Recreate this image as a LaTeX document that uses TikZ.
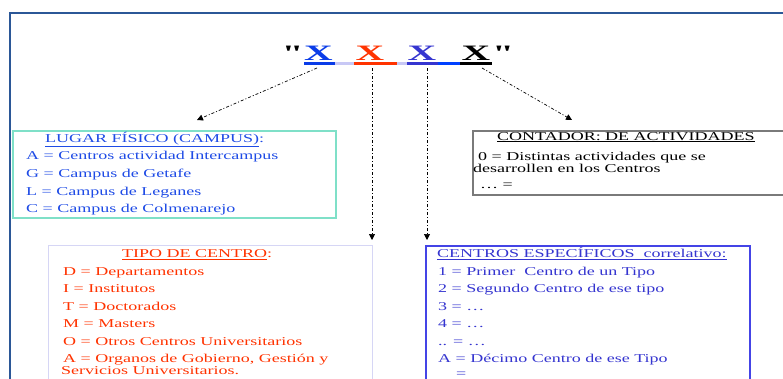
\documentclass[tikz,border=0pt]{standalone}
\usepackage{fontspec}
\setmainfont[FakeStretch=1.5]{Liberation Serif}
\newfontfamily\titlefont[FakeStretch=1.8,Ligatures=TeXOff]{Liberation Serif}
\usetikzlibrary{arrows.meta}
\definecolor{framecol}{HTML}{2B5797}
\definecolor{lugarcol}{HTML}{1E4BE6}
\definecolor{lugarbd}{HTML}{7FE0C8}
\definecolor{tipocol}{HTML}{FF3300}
\definecolor{tipobd}{HTML}{D6D6F5}
\definecolor{centcol}{HTML}{3535D0}
\definecolor{centbd}{HTML}{4444E6}
\definecolor{contbd}{HTML}{7A7A7A}
\definecolor{lavcol}{HTML}{C8C8F5}
\definecolor{xblue}{HTML}{0A3CE8}
\definecolor{xbluetwo}{HTML}{0040FF}
\begin{document}
\begin{tikzpicture}[x=1pt,y=-1pt,
  txt/.style={inner sep=0pt,anchor=base west,font=\fontsize{12}{14}\selectfont},
  bigx/.style={inner sep=0pt,anchor=base,font=\titlefont\fontsize{22}{22}\selectfont\bfseries},
  boxline/.style={line width=1.5pt},
  ddarrow/.style={line width=0.7pt,dash pattern=on 3pt off 2pt on 1pt off 2pt,-{Triangle[width=6pt,length=6pt]}},
  ubar/.style={inner sep=0pt,minimum height=3pt,anchor=north west}]
\clip (0,0) rectangle (783,378);
\fill[white] (0,0) rectangle (783,378);
% outer frame
\draw[framecol,line width=2pt] (785,13) -- (10,13) -- (10,385);

% title
\node[bigx] (ql) at (292.5,60) {"};
\node[bigx,text=xblue] (x1) at (318.5,60) {X};
\node[bigx,text=tipocol] (x2) at (370,60) {X};
\node[bigx,text=centcol] (x3) at (422,60) {X};
\node[bigx,text=black] (x4) at (476,60) {X};
\node[bigx] (qr) at (503,60) {"};
% underline bars
\fill[xblue] (304,61.5) rectangle (335,64.5);
\fill[lavcol] (335,61.5) rectangle (354,64.5);
\fill[tipocol] (354,61.5) rectangle (397,64.5);
\fill[lavcol] (397,61.5) rectangle (407,64.5);
\fill[centcol] (407,61.5) rectangle (438,64.5);
\fill[xbluetwo] (438,61.5) rectangle (460,64.5);
\fill[black] (460,61.5) rectangle (492,64.5);

% boxes
\node[draw=lugarbd,boxline,inner sep=0pt,anchor=north west,minimum width=323pt,minimum height=87pt] (lugar) at (12,130) {};
\node[draw=contbd,boxline,inner sep=0pt,anchor=north west,minimum width=330pt,minimum height=64pt] (cont) at (472,130) {};
\node[draw=tipobd,line width=1pt,inner sep=0pt,anchor=north west,minimum width=324pt,minimum height=160pt] (tipo) at (48,245) {};
\node[draw=centbd,boxline,inner sep=0pt,anchor=north west,minimum width=324pt,minimum height=160pt] (cent) at (425,245) {};

% arrows
\coordinate (s1) at (317,68);
\coordinate (e1) at (197,120);
\coordinate (s2) at (372,68);
\coordinate (e2) at (372,240);
\coordinate (s3) at (427,68);
\coordinate (e3) at (427,240);
\coordinate (s4) at (482,68);
\coordinate (e4) at (572,120);
\draw[ddarrow] (s1) -- (e1);
\draw[ddarrow] (s2) -- (e2);
\draw[ddarrow] (s3) -- (e3);
\draw[ddarrow] (s4) -- (e4);

% LUGAR text
\begin{scope}[text=lugarcol]
\node[txt] (lt) at (45,142.5) {\underline{LUGAR FÍSICO (CAMPUS)}:};
\node[txt] (l1) at (26,159) {A = Centros actividad Intercampus};
\node[txt] (l2) at (26,177) {G = Campus de Getafe};
\node[txt] (l3) at (26,195) {L = Campus de Leganes};
\node[txt] (l4) at (26,212) {C = Campus de Colmenarejo};
\end{scope}

% CONTADOR text
\node[txt] (ct) at (497,140) {\underline{CONTADOR: DE ACTIVIDADES}};
\node[txt] (c1) at (478,160.5) {0 = Distintas actividades que se};
\node[txt] (c2) at (473,172.5) {desarrollen en los Centros};
\node[txt] (c3) at (480,188) {… =};

% TIPO text
\begin{scope}[text=tipocol]
\node[txt] (tt) at (122,257.5) {\underline{TIPO DE CENTRO}:};
\node[txt] (t1) at (63,275) {D = Departamentos};
\node[txt] (t2) at (63,292.5) {I = Institutos};
\node[txt] (t3) at (63,310) {T = Doctorados};
\node[txt] (t4) at (63,327.5) {M = Masters};
\node[txt] (t5) at (63,345) {O = Otros Centros Universitarios};
\node[txt] (t6) at (63,362) {A = Organos de Gobierno, Gestión y};
\node[txt] (t7) at (61,374) {Servicios Universitarios.};
\end{scope}

% CENTROS text
\begin{scope}[text=centcol]
\node[txt] (et) at (437,257.5) {\underline{CENTROS ESPECÍFICOS\ \ correlativo:}};
\node[txt] (e1t) at (438,275) {1 = Primer\ \ Centro de un Tipo};
\node[txt] (e2t) at (438,292.5) {2 = Segundo Centro de ese tipo};
\node[txt] (e3t) at (438,310) {3 = …};
\node[txt] (e4t) at (438,327.5) {4 = …};
\node[txt] (e5t) at (438,345) {.. = …};
\node[txt] (e6t) at (438,362) {A = Décimo Centro de ese Tipo};
\node[txt] (e7t) at (456,377) {=};
\end{scope}
\end{tikzpicture}
\end{document}
